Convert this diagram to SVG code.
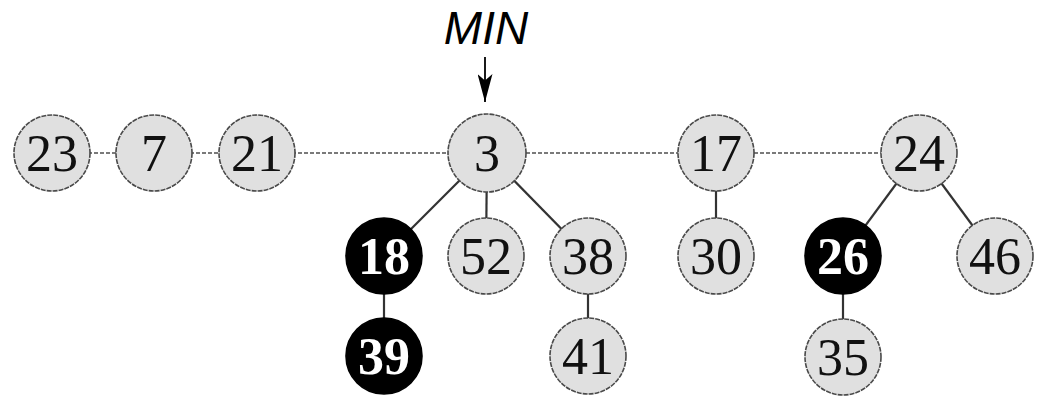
<svg xmlns="http://www.w3.org/2000/svg" width="1039" height="396" viewBox="0 0 1039 396">
<defs>
<style>
.n circle{fill:#e0e0e0;stroke:#4a4a4a;stroke-width:1.6;stroke-dasharray:5 1}
.n text{font-size:52px;fill:#111;text-anchor:middle}
.b circle{fill:#000;stroke:#000;stroke-width:1.6}
.b text{font-size:52px;font-weight:bold;fill:#fff;text-anchor:middle}
.root{stroke:#7a7a7a;stroke-width:2;stroke-dasharray:4 2;fill:none}
.child{stroke:#333;stroke-width:2.2;fill:none}
</style>
<marker id="ah" viewBox="0 0 30 16" refX="30" refY="8" markerWidth="28" markerHeight="15" markerUnits="userSpaceOnUse" orient="auto">
<path d="M0,0 L30,8 L0,16 L7,8 z" fill="#000"/>
</marker>
</defs>
<rect width="1039" height="396" fill="#fff"/>
<g id="connectors">
<line class="root" x1="52" y1="153" x2="919" y2="153"/>
<line class="child" x1="487" y1="153" x2="384" y2="256"/>
<line class="child" x1="487" y1="153" x2="486" y2="256"/>
<line class="child" x1="487" y1="153" x2="588" y2="256"/>
<line class="child" x1="384" y1="256" x2="384" y2="356"/>
<line class="child" x1="588" y1="256" x2="588" y2="356"/>
<line class="child" x1="716" y1="153" x2="716" y2="256"/>
<line class="child" x1="919" y1="153" x2="843" y2="256"/>
<line class="child" x1="919" y1="153" x2="995" y2="256"/>
<line class="child" x1="843" y1="256" x2="843" y2="357"/>
<line x1="485" y1="57" x2="485" y2="102" stroke="#000" stroke-width="1.8" marker-end="url(#ah)"/>
</g>
<g id="label-min"><text x="486" y="44" font-family="Liberation Sans, Arial, sans-serif" font-size="46" font-style="italic" text-anchor="middle" fill="#000">MIN</text></g>
<g font-family="'Liberation Serif', 'Times New Roman', serif">
<g id="n23" class="n"><circle cx="52" cy="153" r="38"/><text x="52" y="171">23</text></g>
<g id="n7" class="n"><circle cx="154" cy="153" r="38"/><text x="154" y="171">7</text></g>
<g id="n21" class="n"><circle cx="257" cy="153" r="38"/><text x="257" y="171">21</text></g>
<g id="n3" class="n"><circle cx="487" cy="153" r="39"/><text x="487" y="171">3</text></g>
<g id="n17" class="n"><circle cx="716" cy="153" r="38"/><text x="716" y="171">17</text></g>
<g id="n24" class="n"><circle cx="919" cy="153" r="38"/><text x="919" y="171">24</text></g>
<g id="n18" class="b"><circle cx="384" cy="256" r="38"/><text x="384" y="274">18</text></g>
<g id="n52" class="n"><circle cx="486" cy="256" r="38"/><text x="486" y="274">52</text></g>
<g id="n38" class="n"><circle cx="588" cy="256" r="38"/><text x="588" y="274">38</text></g>
<g id="n30" class="n"><circle cx="716" cy="256" r="38"/><text x="716" y="274">30</text></g>
<g id="n26" class="b"><circle cx="843" cy="256" r="38"/><text x="843" y="274">26</text></g>
<g id="n46" class="n"><circle cx="995" cy="256" r="38"/><text x="995" y="274">46</text></g>
<g id="n39" class="b"><circle cx="384" cy="356" r="38"/><text x="384" y="374">39</text></g>
<g id="n41" class="n"><circle cx="588" cy="356" r="38"/><text x="588" y="374">41</text></g>
<g id="n35" class="n"><circle cx="843" cy="357" r="38"/><text x="843" y="375">35</text></g>
</g>
</svg>
